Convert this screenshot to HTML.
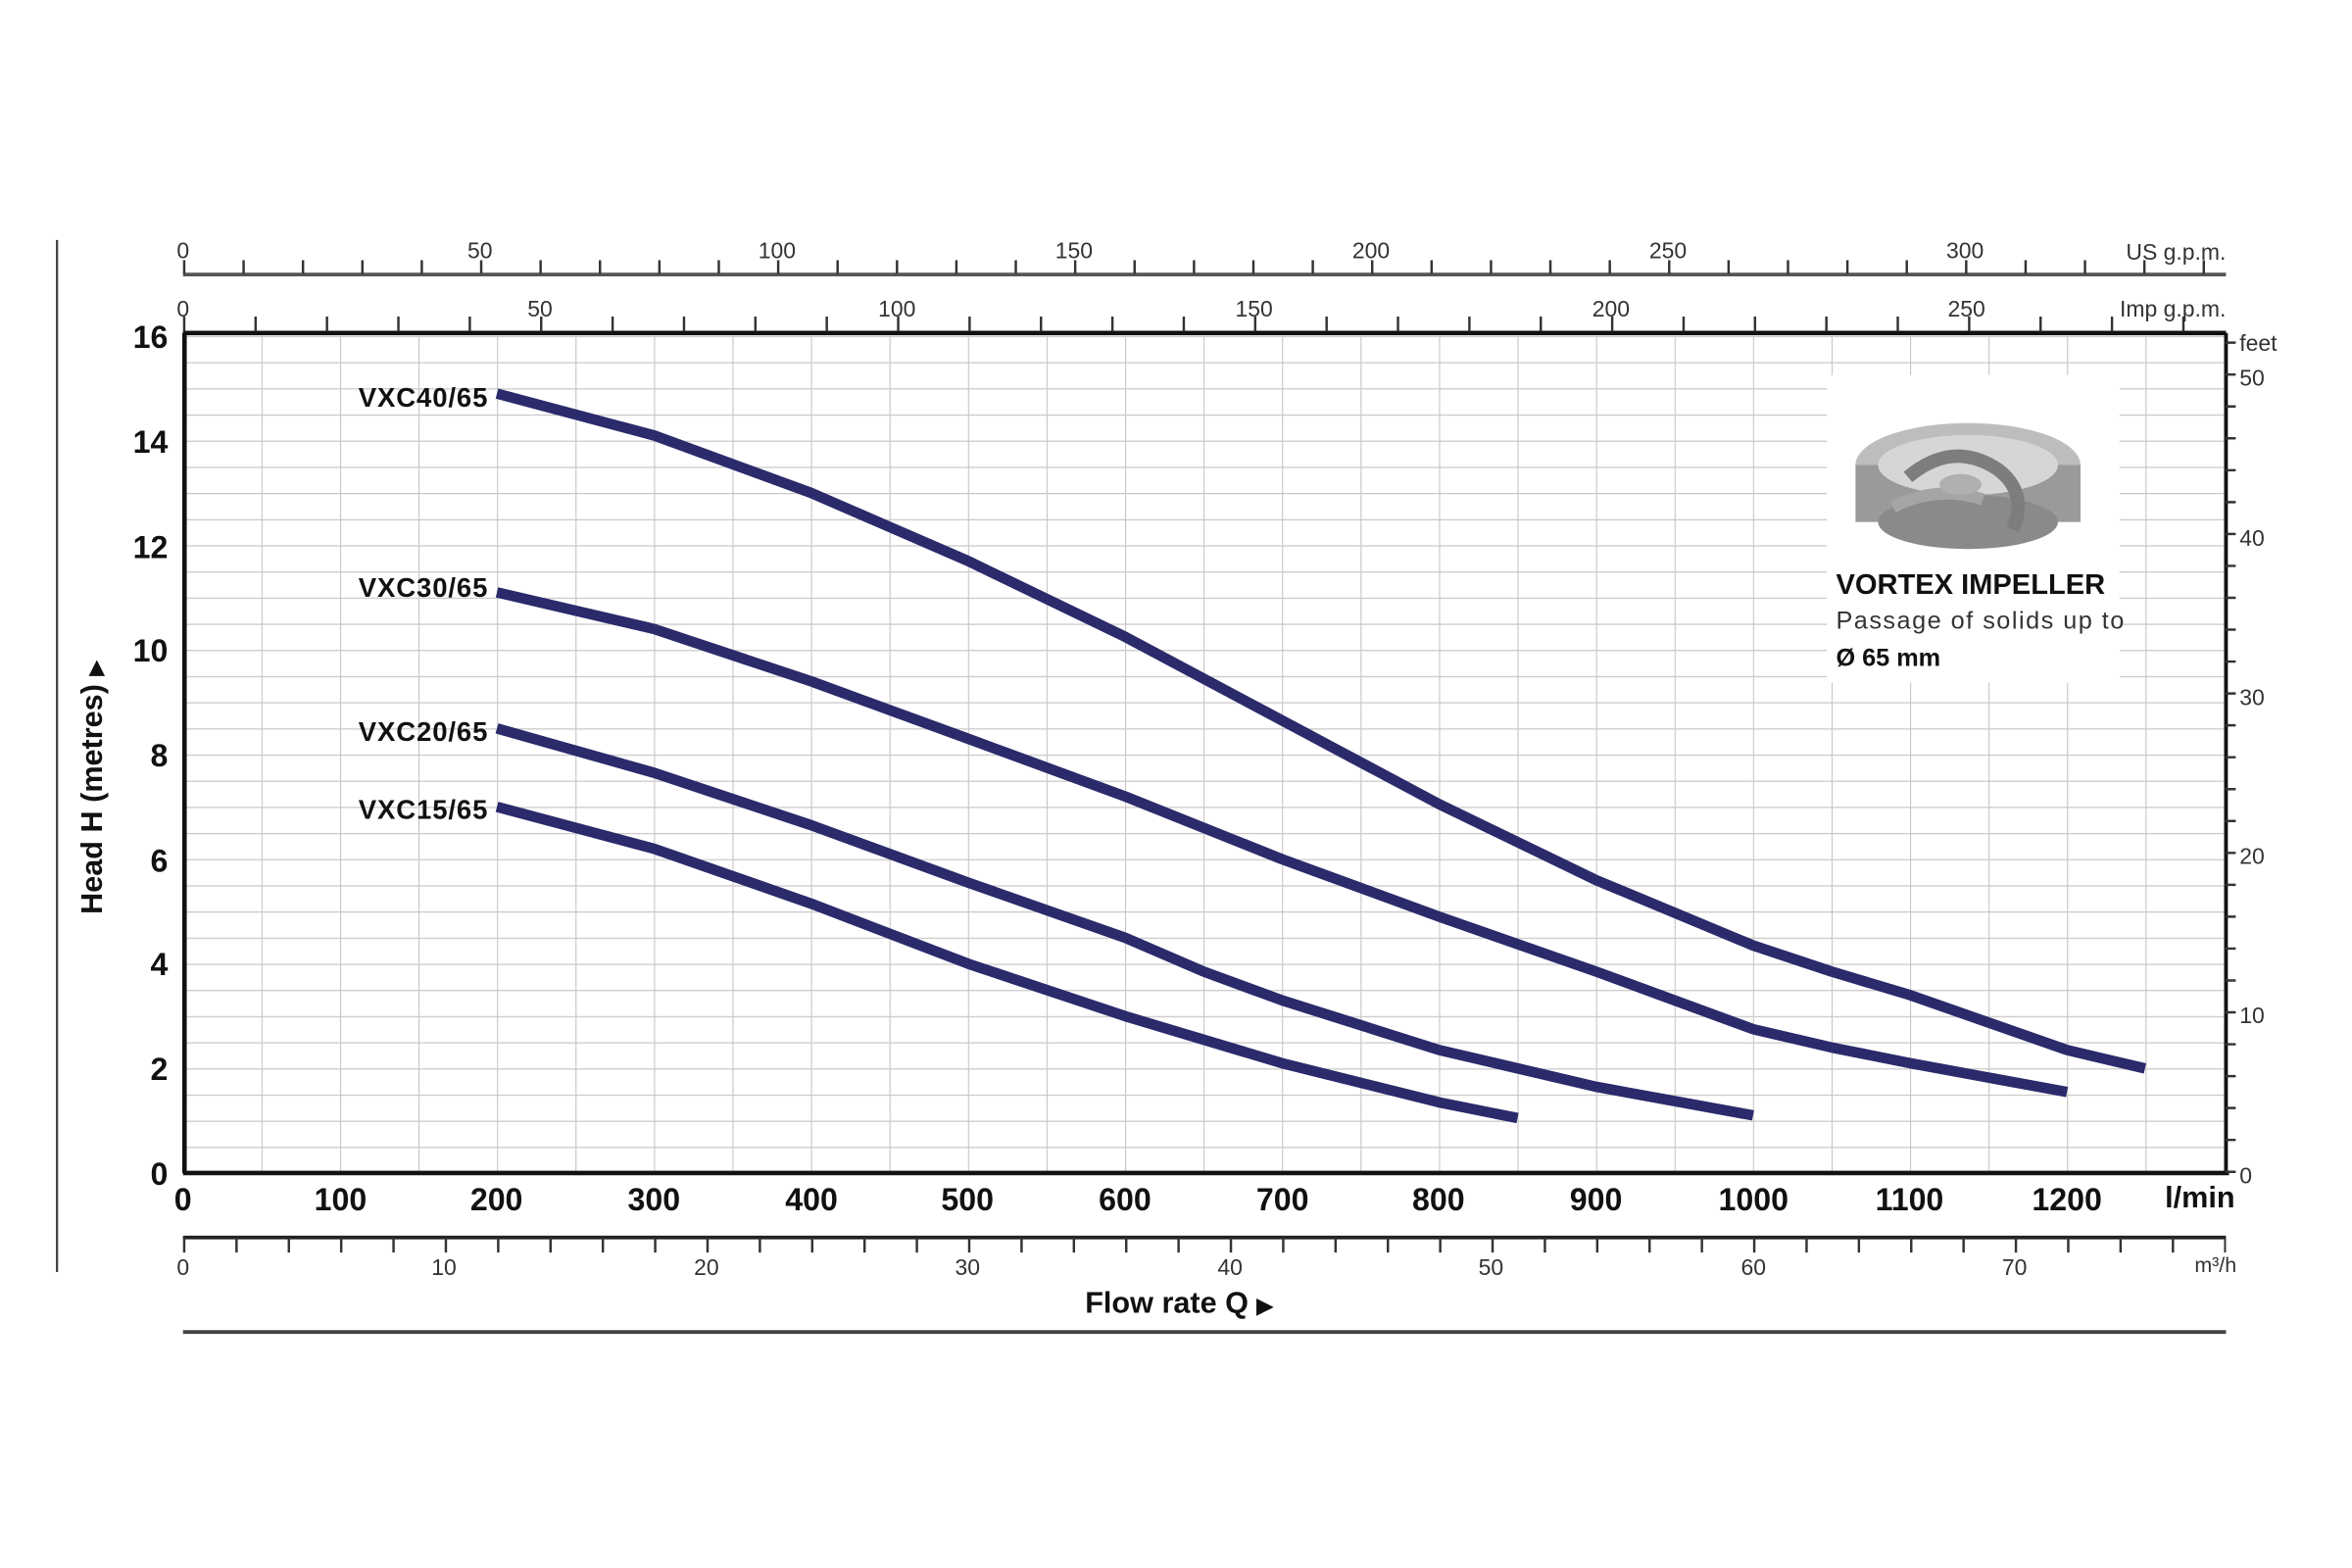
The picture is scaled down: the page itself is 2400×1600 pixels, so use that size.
<!DOCTYPE html>
<html><head><meta charset="utf-8"><style>
html,body{margin:0;padding:0;background:#fff;}
svg{display:block;}
text{font-family:"Liberation Sans",sans-serif;}
</style></head><body>
<svg width="2400" height="1600" viewBox="0 0 1568 1045.33" preserveAspectRatio="none" xmlns="http://www.w3.org/2000/svg">
<defs>
<pattern id="grid" x="122" y="224" width="52.335" height="17.4375" patternUnits="userSpaceOnUse">
<line x1="0" y1="0" x2="0" y2="17.4375" stroke="#c4c4c4" stroke-width="1.4"/>
<line x1="0" y1="0" x2="52.335" y2="0" stroke="#c8c8c8" stroke-width="1.6"/>
</pattern>
</defs>
<rect width="1568" height="1046" fill="#fff"/>
<line x1="38" y1="160" x2="38" y2="848" stroke="#444" stroke-width="1.5"/>
<rect x="122" y="224" width="1362" height="558" fill="url(#grid)"/>
<rect x="1218" y="250" width="195" height="205" fill="#fff"/>
<g transform="translate(1312,318)">
<ellipse cx="0" cy="-8" rx="75" ry="28" fill="#bdbdbd"/>
<rect x="-75" y="-8" width="150" height="38" fill="#9a9a9a"/>
<ellipse cx="0" cy="30" rx="60" ry="18" fill="#8a8a8a"/>
<ellipse cx="0" cy="-8" rx="60" ry="20" fill="#d6d6d6"/>
<path d="M-40,0 Q-10,-25 20,-5 Q40,10 30,35" stroke="#7d7d7d" stroke-width="9" fill="none"/>
<path d="M-50,20 Q-20,5 10,15" stroke="#a5a5a5" stroke-width="8" fill="none"/>
<ellipse cx="-5" cy="5" rx="14" ry="7" fill="#b0b0b0"/>
</g>
<text x="1224" y="396" font-size="19" font-weight="bold" fill="#111">VORTEX IMPELLER</text>
<text x="1224" y="419" font-size="16.5" fill="#333" textLength="192">Passage of solids up to</text>
<text x="1224" y="444" font-size="16.5" font-weight="bold" fill="#111">Ø 65 mm</text>
<line x1="122" y1="222" x2="1484" y2="222" stroke="#111" stroke-width="3"/>
<line x1="123" y1="222" x2="123" y2="782" stroke="#111" stroke-width="3"/>
<line x1="122" y1="782" x2="1486" y2="782" stroke="#111" stroke-width="3"/>
<line x1="1484" y1="222" x2="1484" y2="783" stroke="#111" stroke-width="2.5"/>
<line x1="122" y1="183" x2="1484" y2="183" stroke="#555" stroke-width="2.5"/>
<line x1="122" y1="178" x2="1484" y2="178" stroke="#333" stroke-width="9" stroke-dasharray="1.6 38" />
<g font-size="15" fill="#333" text-anchor="middle">
<text x="122" y="172">0</text><text x="320" y="172">50</text><text x="518" y="172">100</text><text x="716" y="172">150</text><text x="914" y="172">200</text><text x="1112" y="172">250</text><text x="1310" y="172">300</text>
</g>
<text x="1484" y="173" font-size="15" fill="#333" text-anchor="end">US g.p.m.</text>
<line x1="122" y1="216" x2="1484" y2="216" stroke="#333" stroke-width="10" stroke-dasharray="1.6 46" />
<g font-size="15" fill="#333" text-anchor="middle">
<text x="122" y="211">0</text><text x="360" y="211">50</text><text x="598" y="211">100</text><text x="836" y="211">150</text><text x="1074" y="211">200</text><text x="1311" y="211">250</text>
</g>
<text x="1484" y="211" font-size="15" fill="#333" text-anchor="end">Imp g.p.m.</text>
<line x1="1487" y1="782" x2="1487" y2="224" stroke="#333" stroke-width="7" stroke-dasharray="1.6 19.66"/>
<g font-size="15" fill="#333">
<text x="1493" y="234">feet</text>
<text x="1493" y="257">50</text><text x="1493" y="364">40</text><text x="1493" y="470">30</text><text x="1493" y="576">20</text><text x="1493" y="682">10</text><text x="1493" y="789">0</text>
</g>
<g font-size="21" font-weight="bold" fill="#111" text-anchor="end">
<text x="112" y="232">16</text><text x="112" y="302">14</text><text x="112" y="372">12</text><text x="112" y="441">10</text><text x="112" y="511">8</text><text x="112" y="581">6</text><text x="112" y="650">4</text><text x="112" y="720">2</text><text x="112" y="790">0</text>
</g>
<text transform="translate(68,525) rotate(-90)" font-size="20" font-weight="bold" fill="#111" text-anchor="middle">Head H  (metres) <tspan font-size="13">▶</tspan></text>
<g font-size="21" font-weight="bold" fill="#111" text-anchor="middle">
<text x="122" y="807">0</text><text x="227" y="807">100</text><text x="331" y="807">200</text><text x="436" y="807">300</text><text x="541" y="807">400</text><text x="645" y="807">500</text><text x="750" y="807">600</text><text x="855" y="807">700</text><text x="959" y="807">800</text><text x="1064" y="807">900</text><text x="1169" y="807">1000</text><text x="1273" y="807">1100</text><text x="1378" y="807">1200</text>
</g>
<text x="1490" y="805" font-size="20" font-weight="bold" fill="#111" text-anchor="end">l/min</text>
<line x1="122" y1="825" x2="1484" y2="825" stroke="#222" stroke-width="2.5"/>
<line x1="122" y1="830" x2="1484" y2="830" stroke="#333" stroke-width="10" stroke-dasharray="1.6 33.29" />
<g font-size="15" fill="#333" text-anchor="middle">
<text x="122" y="850">0</text><text x="296" y="850">10</text><text x="471" y="850">20</text><text x="645" y="850">30</text><text x="820" y="850">40</text><text x="994" y="850">50</text><text x="1169" y="850">60</text><text x="1343" y="850">70</text>
</g>
<text x="1491" y="848" font-size="14" fill="#333" text-anchor="end">m³/h</text>
<text x="786" y="875" font-size="20" font-weight="bold" fill="#111" text-anchor="middle">Flow rate Q <tspan font-size="14">▶</tspan></text>
<line x1="122" y1="888" x2="1484" y2="888" stroke="#444" stroke-width="2.5"/>
<g fill="none" stroke="#2b2a6b" stroke-width="7" stroke-linejoin="round">
<polyline points="331.3,262.4 436,290.3 540.7,328.6 645.4,374 750,424.5 854.7,480.3 959.4,536.1 1064,586.7 1168.7,630.3 1221,647.7 1273.4,663.4 1378,700 1430,712.3"/>
<polyline points="331.3,394.9 436,419.3 540.7,454.2 645.4,492.5 750,530.9 854.7,572.8 959.4,611.1 1064,647.7 1168.7,686.1 1221,698.3 1273.4,708.8 1378,728"/>
<polyline points="331.3,485.6 436,515.2 540.7,550.1 645.4,588.4 750,625.1 802.4,647.7 854.7,666.9 959.4,700 1064,724.5 1168.7,743.6"/>
<polyline points="331.3,537.9 436,565.8 540.7,602.4 645.4,642.5 750,677.4 854.7,708.8 959.4,734.9 1011.7,745.4"/>
</g>
<g font-size="18" font-weight="bold" fill="#111" text-anchor="end">
<text x="325" y="271" textLength="86">VXC40/65</text>
<text x="325" y="398" textLength="86">VXC30/65</text>
<text x="325" y="494" textLength="86">VXC20/65</text>
<text x="325" y="546" textLength="86">VXC15/65</text>
</g>
</svg>
</body></html>
